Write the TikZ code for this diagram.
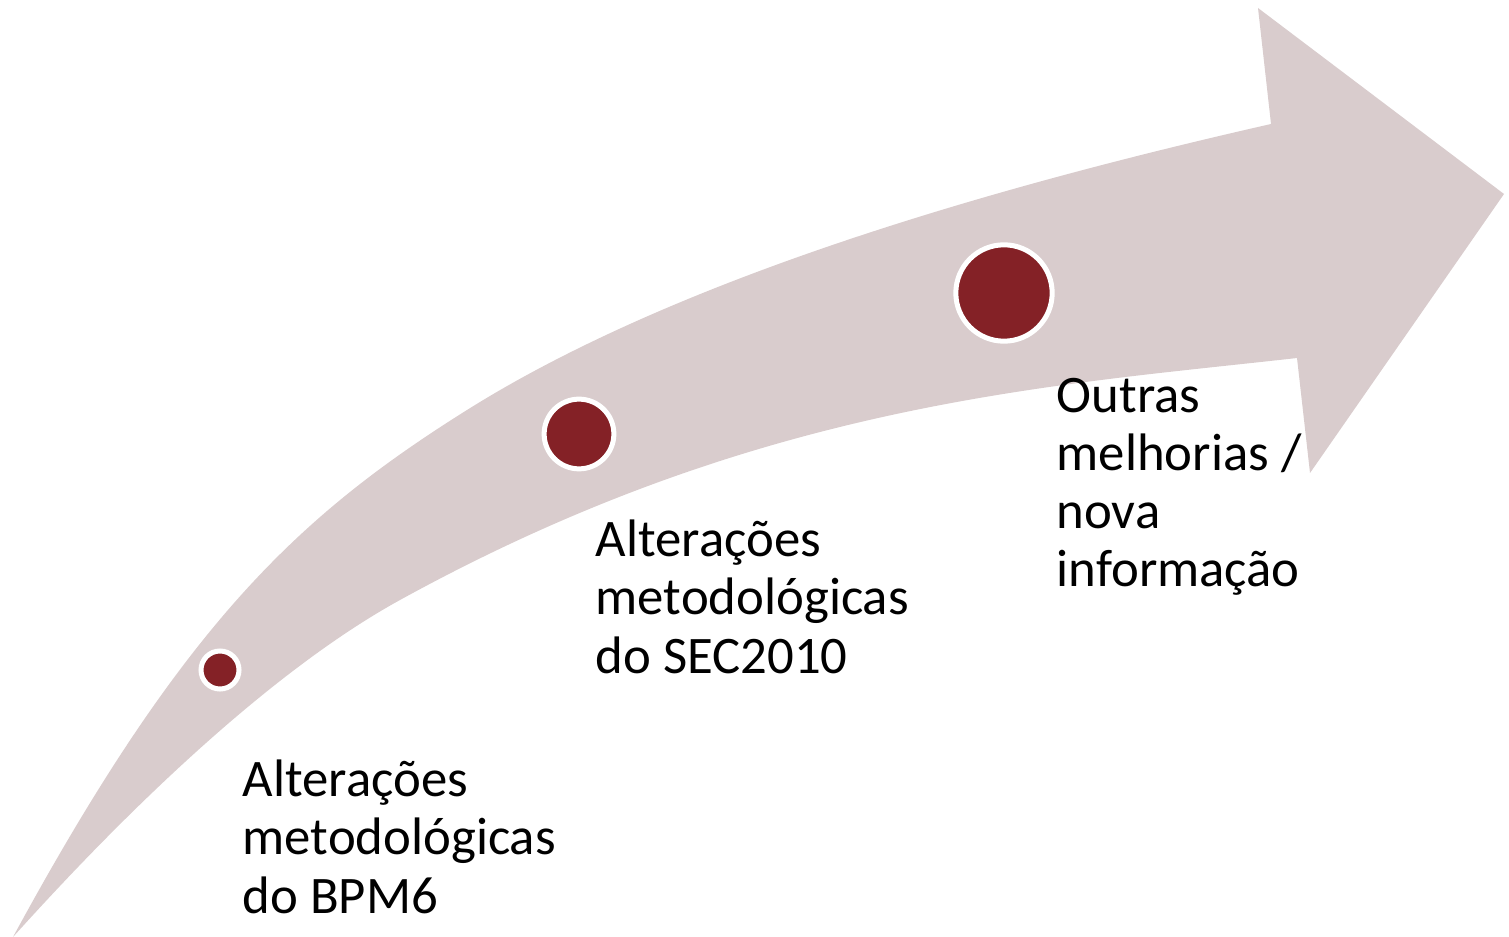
\documentclass[tikz,border=0pt]{standalone}
\usepackage{fontspec}
\setmainfont{Carlito}
\definecolor{bandgray}{RGB}{217,204,205}
\definecolor{dotred}{RGB}{132,33,38}
\tikzset{
  dot/.style={circle,draw=white,line width=0.05cm,fill=dotred,inner sep=0pt},
  lbl/.style={align=left,inner sep=0pt,anchor=base west,font=\fontsize{15}{16.5}\selectfont}
}
\begin{document}
\begin{tikzpicture}[x=0.01cm,y=-0.01cm]
\useasboundingbox (0,0) rectangle (1509,937);
% curved band with its head
\fill[bandgray] (13,937) .. controls (183,624) and (298,516) .. (467,410)
  .. controls (679,277) and (998,186) .. (1271,124)
  -- (1258,8) -- (1504,194) -- (1310,473) -- (1297,358)
  .. controls (1049,386) and (760,402) .. (400,600)
  .. controls (240,688) and (70,874) .. (13,937) -- cycle;
% milestones
\node[dot,minimum size=0.38cm] (m_1) at (220,670) {};
\node[dot,minimum size=0.697cm] (m_2) at (579,434) {};
\node[dot,minimum size=0.963cm] (m_3) at (1004,293) {};
% labels (anchored at the last baseline)
\node[lbl] (l_1) at (242,913) {Alterações\\metodológicas\\do BPM6};
\node[lbl] (l_2) at (595,673) {Alterações\\metodológicas\\do SEC2010};
\node[lbl] (l_3) at (1056,587) {Outras\\melhorias /\\nova\\informação};
\end{tikzpicture}
\end{document}
